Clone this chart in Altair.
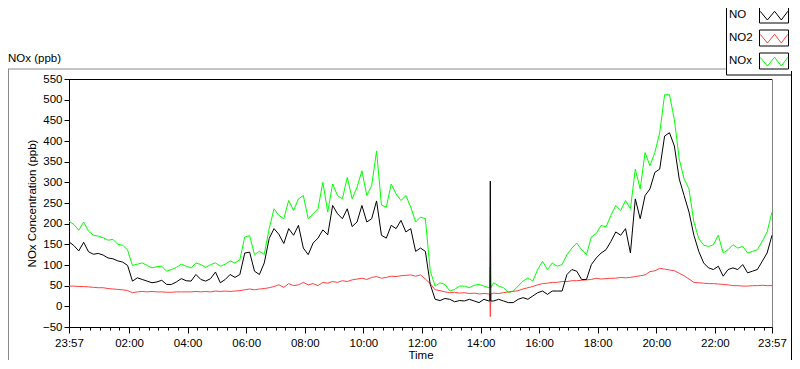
import altair as alt
import pandas as pd

# time axis: minutes after midnight, sampled every 10 minutes from 23:57 to 23:57
TIMES = [-3 + 10 * i for i in range(145)]

NO = [156, 147, 134, 155, 132, 126, 128, 124, 117, 115, 110, 107, 99, 61, 69, 65, 61, 57, 59, 63, 53, 53, 59, 67, 62,
      61, 77, 65, 61, 67, 83, 57, 65, 77, 70, 77, 129, 131, 85, 77, 105, 164, 188, 174, 152, 188, 172, 196, 141,
      125, 153, 165, 185, 173, 244, 224, 212, 236, 193, 204, 244, 204, 212, 255, 172, 165, 196, 188, 208, 180, 188, 133, 141,
      133, 53, 17, 14, 19, 17, 11, 14, 13, 17, 13, 9, 17, 13, 13, 17, 13, 9, 9, 17, 21, 17, 25, 33,
      37, 29, 37, 37, 37, 77, 89, 85, 65, 65, 101, 117, 129, 137, 157, 180, 172, 188, 129, 260, 212, 268, 284, 324,
      332, 412, 420, 388, 308, 268, 228, 172, 133, 105, 93, 89, 97, 73, 89, 93, 89, 101, 81, 85, 89, 109, 129, 172]

NO2 = [49, 49, 48, 48, 47, 46, 45, 45, 43, 42, 41, 40, 38, 33, 35, 36, 35, 36, 35, 35, 34, 34, 35, 35, 35,
       35, 36, 35, 36, 35, 37, 36, 37, 36, 37, 38, 40, 42, 40, 42, 43, 45, 48, 52, 46, 55, 50, 52, 58,
       52, 55, 50, 58, 56, 60, 58, 62, 60, 64, 66, 68, 65, 70, 72, 68, 70, 73, 72, 74, 75, 76, 73, 76,
       66, 55, 40, 38, 35, 33, 34, 32, 33, 31, 32, 30, 31, 30, 32, 31, 33, 35, 36, 38, 42, 45, 48, 52,
       55, 56, 58, 58, 60, 60, 62, 62, 63, 64, 65, 68, 66, 67, 68, 68, 70, 69, 70, 72, 74, 76, 84, 86,
       92, 90, 88, 86, 80, 74, 66, 58, 57, 56, 55, 55, 54, 53, 52, 50, 50, 49, 49, 50, 50, 51, 50, 50]

NOX = [206, 198, 184, 204, 182, 172, 170, 166, 160, 162, 150, 148, 136, 99, 102, 105, 99, 93, 96, 97, 85, 89, 94, 102, 97,
       93, 105, 101, 94, 101, 105, 97, 102, 110, 105, 113, 168, 171, 125, 133, 126, 188, 236, 220, 212, 256, 232, 260, 268,
       212, 224, 236, 300, 228, 296, 268, 260, 312, 260, 288, 328, 268, 292, 376, 245, 240, 296, 272, 256, 268, 240, 204, 216,
       212, 85, 49, 57, 53, 37, 41, 49, 49, 45, 51, 53, 49, 45, 57, 49, 45, 33, 37, 49, 61, 69, 61, 89,
       109, 89, 105, 97, 101, 125, 141, 153, 137, 125, 168, 176, 196, 192, 220, 244, 232, 256, 236, 332, 284, 372, 340, 372,
       420, 512, 512, 452, 356, 308, 284, 204, 164, 148, 145, 149, 172, 129, 137, 149, 141, 145, 129, 133, 137, 157, 180, 228]

# short spike around 14:20
SPIKE_T = [859, 860, 861]
NO_SPIKE = [13, 303, 13]
NO2_SPIKE = [30, -25, 30]
NOX_SPIKE = [45, 95, 45]

SERIES = ["NO", "NO2", "NOx"]
COLORS = ["#000000", "#ff4040", "#00ff00"]
BOX_KEYS = ["box1", "box2", "box3"]

X_TICKS = [-3] + list(range(20, 1421, 20)) + [1437]
Y_TICKS = list(range(-50, 551, 50))

FONT = "Liberation Sans"
FS = 11.5

rows = []
for name, vals, spike in [("NO", NO, NO_SPIKE), ("NO2", NO2, NO2_SPIKE), ("NOx", NOX, NOX_SPIKE)]:
    for t, v in zip(TIMES, vals):
        rows.append({"t": t, "v": v, "series": name})
    for t, v in zip(SPIKE_T, spike):
        rows.append({"t": t, "v": v, "series": name})
df = pd.DataFrame(rows).sort_values(["series", "t"])

# zigzag symbol; the two leading moveTo points give it the same extent as the box symbol
ZIGZAG = "M-1.45,-0.8M1.45,0.8M-1.38,-0.37L-0.66,0.5L0.06,-0.37L0.73,0.5L1.38,-0.37"
BOX = "M-1.45,-0.8L1.45,-0.8L1.45,0.8L-1.45,0.8Z"

PLOT_H = 248

major_test = "datum.value == -3 || datum.value == 1437 || datum.value % 120 == 0"
x_axis = alt.Axis(
    values=X_TICKS,
    labelExpr="datum.value == -3 || datum.value == 1437 ? '23:57' : (datum.value % 120 == 0 ? format(datum.value / 60, '02d') + ':00' : '')",
    tickSize={"condition": {"test": major_test, "value": 6}, "value": 3},
    labelPadding=4,
    labelOverlap=False,
    labelFlush=False,
    labelBound=False,
    title="Time",
    titlePadding=1,
    grid=False,
)
y_axis = alt.Axis(
    values=Y_TICKS,
    tickSize=5,
    labelPadding=2,
    title="NOx Concentration (ppb)",
    titlePadding=5,
    grid=False,
)

LEG_X = 657
LEG_Y = -77.5
SYM_OFF = 34.5
LAB_OFF = {"expr": "-55.5"}
ROW_PAD = 2

x_enc = alt.X("t:Q", scale=alt.Scale(domain=[-3, 1437], nice=False, zero=False), axis=x_axis)
y_enc = alt.Y("v:Q", scale=alt.Scale(domain=[-50, 550], nice=False, zero=False), axis=y_axis)
color_enc = alt.Color(
    "series:N",
    scale=alt.Scale(domain=SERIES, range=COLORS),
    legend=alt.Legend(
        orient="none", legendX=LEG_X, legendY=LEG_Y, padding=3, rowPadding=ROW_PAD,
        symbolType=ZIGZAG, symbolSize=400, symbolStrokeWidth=1, symbolOffset=SYM_OFF,
        symbolFillColor="transparent",
        labelOffset=LAB_OFF, labelAlign="left", title=None,
        labelFont=FONT, labelFontSize=FS, labelColor="black",
        strokeColor="black",
    ),
)

base = alt.Chart(df)
lines = [
    base.transform_filter(alt.datum.series == s).mark_line(strokeWidth=1, interpolate="linear").encode(
        x=x_enc, y=y_enc, color=color_enc
    )
    for s in ["NOx", "NO2", "NO"]
]

box_df = pd.DataFrame({"box": BOX_KEYS})
boxes = alt.Chart(box_df).mark_point(opacity=0).encode(
    x=alt.value(0), y=alt.value(0),
    shape=alt.Shape(
        "box:N",
        scale=alt.Scale(domain=BOX_KEYS, range=[BOX] * 3),
        legend=alt.Legend(
            orient="none", legendX=LEG_X, legendY=LEG_Y, padding=3, rowPadding=ROW_PAD,
            symbolSize=400, symbolStrokeWidth=1, symbolOffset=SYM_OFF,
            symbolStrokeColor="black", symbolFillColor="transparent", symbolOpacity=1,
            labelOffset=LAB_OFF, labelAlign="left", title=None, labelExpr="' '",
            labelFont=FONT, labelFontSize=FS,
        ),
    ),
)

one = pd.DataFrame({"label": ["NOx (ppb)"]})
name_text = alt.Chart(one).mark_text(align="left", baseline="middle", font=FONT, fontSize=FS, color="black").encode(
    x=alt.value(-61), y=alt.value(-20), text="label:N"
)
top_rule = alt.Chart(one).mark_rule(color="black", strokeWidth=1).encode(
    x=alt.value(0), x2=alt.value(703), y=alt.value(0.5)
)
frame_top = alt.Chart(one).mark_rule(color="#8a8a8a", strokeWidth=1).encode(
    x=alt.value(-61), x2=alt.value(LEG_X), y=alt.value(-10)
)
frame_left = alt.Chart(one).mark_rule(color="#8a8a8a", strokeWidth=1).encode(
    x=alt.value(-60.5), y=alt.value(-10), y2=alt.value(PLOT_H + 33)
)
frame_right = alt.Chart(one).mark_rule(color="black", strokeWidth=1).encode(
    x=alt.value(722.5), y=alt.value(-8), y2=alt.value(PLOT_H + 33)
)

chart = alt.layer(*lines, boxes, top_rule, frame_top, frame_left, frame_right, name_text).properties(
    width=703,
    height=PLOT_H,
    background="white",
    autosize=alt.AutoSizeParams(type="none"),
    padding={"left": 61, "top": 71, "right": 20, "bottom": 33},
).configure_view(
    stroke="#808080", strokeWidth=1
).configure_axis(
    labelFont=FONT, labelFontSize=FS, labelColor="black",
    titleFont=FONT, titleFontSize=FS, titleColor="black", titleFontWeight="normal",
    domainColor="black", tickColor="black", domainWidth=1, tickWidth=1,
)

chart.save("out.html", embed_options={"renderer": "svg", "actions": False})
